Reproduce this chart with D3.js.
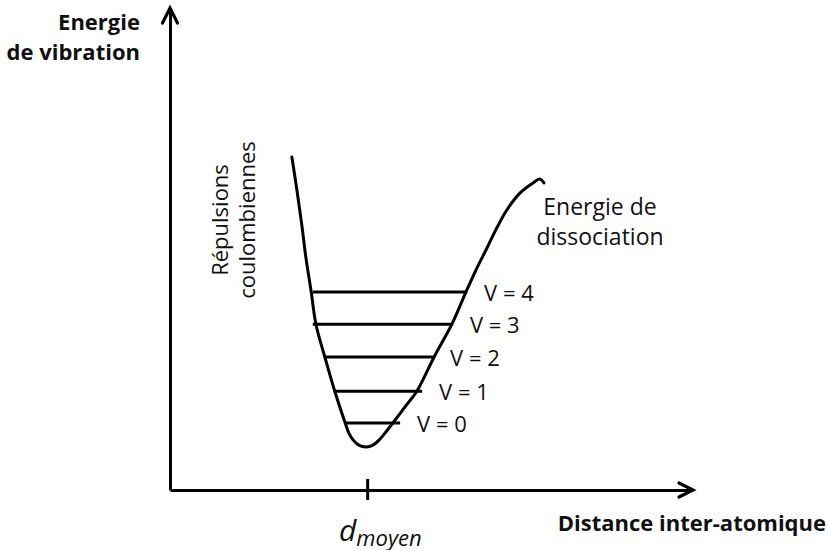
<!DOCTYPE html>
<html>
<head>
<meta charset="utf-8">
<script src="https://cdn.jsdelivr.net/npm/d3@7"></script>
<style>
  html, body { margin: 0; padding: 0; background: #fff; }
  svg { display: block; }
  text { font-family: "Open Sans", "DejaVu Sans", sans-serif; fill: #111; }
</style>
</head>
<body>
<svg id="chart" width="829" height="550"></svg>
<script>
// ---- Data (abstract units: distance 0-100, energy 0-100) ----
const curveDistance = [23.3, 24.3, 25.2, 26.0, 27.0, 27.9, 29.6, 31.5, 33.5, 34.2, 35.0, 36.1, 37.5, 38.8, 40.0, 41.1, 42.6, 44.9, 47.2, 50.5, 53.9, 56.6, 58.7, 60.6, 62.5, 64.4, 66.9, 69.4, 70.7, 71.5];
const curveEnergy   = [69.1, 62.0, 55.0, 48.1, 41.1, 34.4, 27.6, 20.5, 13.9, 11.8, 10.4,  9.3,  8.9,  9.3, 10.4, 11.8, 13.9, 17.2, 20.5, 27.6, 34.4, 41.1, 46.1, 50.2, 54.4, 58.1, 61.6, 63.7, 64.5, 63.7];

const levelNames  = ["V = 0", "V = 1", "V = 2", "V = 3", "V = 4"];
const levelEnergy = [13.9, 20.5, 27.6, 34.4, 41.1];
const levelStart  = [33.5, 31.4, 29.4, 27.3, 27.3];
const levelEnd    = [44.0, 48.2, 50.3, 54.1, 56.8];

const dMoyen = 37.7;
const yTitle = ["Energie", "de vibration"];
const xTitle = "Distance inter-atomique";
const leftNote = ["Répulsions", "coulombiennes"];
const rightNote = ["Energie de", "dissociation"];

// ---- Scales ----
const svg = d3.select("#chart");
const x = d3.scaleLinear().domain([0, 100]).range([170, 693]);
const y = d3.scaleLinear().domain([0, 100]).range([490, 8]);

// ---- Axes ----
const xAxis = d3.axisBottom(x).tickValues([dMoyen]).tickFormat("").tickSizeInner(10).tickSizeOuter(0);
const gx = svg.append("g").attr("transform", `translate(0,${y(0)})`).call(xAxis);
gx.select(".domain").attr("stroke", "#000").attr("stroke-width", 3);
gx.selectAll(".tick line").attr("y1", -11).attr("y2", 10).attr("stroke", "#000").attr("stroke-width", 3);

const yAxis = d3.axisLeft(y).tickValues([]).tickSizeOuter(0);
const gy = svg.append("g").attr("transform", `translate(${x(0)},0)`).call(yAxis);
gy.select(".domain").attr("stroke", "#000").attr("stroke-width", 3);

// arrow heads
svg.append("path")
  .attr("d", `M${x(100) - 14},${y(0) - 7} L${x(100)},${y(0)} L${x(100) - 14},${y(0) + 7}`)
  .attr("fill", "none").attr("stroke", "#000").attr("stroke-width", 3.2)
  .attr("stroke-linejoin", "miter").attr("stroke-linecap", "round");
svg.append("path")
  .attr("d", `M${x(0) - 7.5},${y(100) + 15} L${x(0)},${y(100)} L${x(0) + 7.5},${y(100) + 15}`)
  .attr("fill", "none").attr("stroke", "#000").attr("stroke-width", 3.2)
  .attr("stroke-linejoin", "miter").attr("stroke-linecap", "round");

// ---- Potential curve ----
const pts = curveDistance.map((d, i) => [d, curveEnergy[i]]);
const line = d3.line().x(d => x(d[0])).y(d => y(d[1])).curve(d3.curveCatmullRom.alpha(0.5));
svg.append("path").attr("d", line(pts))
  .attr("fill", "none").attr("stroke", "#000").attr("stroke-width", 3)
  .attr("stroke-linecap", "round").attr("stroke-linejoin", "round");

// ---- Vibration levels ----
const levels = levelNames.map((n, i) => ({ name: n, e: levelEnergy[i], a: levelStart[i], b: levelEnd[i] }));
svg.append("g").selectAll("line").data(levels).join("line")
  .attr("x1", d => x(d.a)).attr("x2", d => x(d.b))
  .attr("y1", d => y(d.e)).attr("y2", d => y(d.e))
  .attr("stroke", "#000").attr("stroke-width", 3);
svg.append("g").selectAll("text").data(levels).join("text")
  .attr("x", d => x(d.b) + 17).attr("y", d => y(d.e) + 9)
  .attr("font-size", 22)
  .text(d => d.name);

// ---- Titles ----
svg.append("g").selectAll("text").data(yTitle).join("text")
  .attr("x", 140).attr("y", (d, i) => 30 + i * 30)
  .attr("text-anchor", "end").attr("font-size", 22).attr("font-weight", "bold")
  .text(d => d);

svg.append("text").attr("x", 826).attr("y", 531)
  .attr("text-anchor", "end").attr("font-size", 22).attr("font-weight", "bold")
  .text(xTitle);

// d_moyen label
const dl = svg.append("text").attr("x", 339).attr("y", 541)
  .attr("font-style", "italic");
dl.append("tspan").attr("font-size", 30).text("d");
dl.append("tspan").attr("font-size", 22).attr("dy", 5).text("moyen");

// Répulsions coulombiennes (rotated)
svg.append("g").attr("transform", "translate(228,220) rotate(-90)")
  .selectAll("text").data(leftNote).join("text")
  .attr("x", 0).attr("y", (d, i) => i * 27)
  .attr("text-anchor", "middle").attr("font-size", 22)
  .text(d => d);

// Energie de dissociation
svg.append("g").selectAll("text").data(rightNote).join("text")
  .attr("x", 600).attr("y", (d, i) => 215 + i * 30)
  .attr("text-anchor", "middle").attr("font-size", 23)
  .text(d => d);
</script>
</body>
</html>
